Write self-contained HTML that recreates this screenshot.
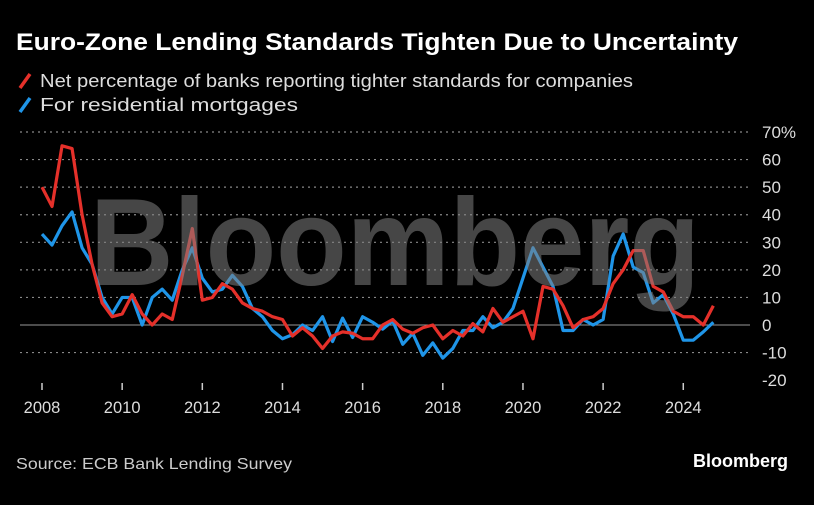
<!DOCTYPE html>
<html><head><meta charset="utf-8"><style>
body{margin:0;background:#000;width:814px;height:500px;overflow:hidden;font-family:"Liberation Sans",sans-serif;color:#fff}
</style></head><body>
<svg width="814" height="500" xmlns="http://www.w3.org/2000/svg">
<rect width="814" height="500" fill="#000"/>
<text x="16" y="50" font-size="24" font-weight="bold" fill="#fff" textLength="722" lengthAdjust="spacingAndGlyphs">Euro-Zone Lending Standards Tighten Due to Uncertainty</text>
<g><line x1="20" y1="88" x2="30" y2="74" stroke="#e5302a" stroke-width="3.5"/><text x="40" y="87" font-size="18" fill="#ddd" textLength="593" lengthAdjust="spacingAndGlyphs">Net percentage of banks reporting tighter standards for companies</text></g>
<g><line x1="20" y1="112" x2="30" y2="98" stroke="#1f95e8" stroke-width="3.5"/><text x="40" y="111" font-size="18" fill="#ddd" textLength="258" lengthAdjust="spacingAndGlyphs">For residential mortgages</text></g>
<g id="grid"></g><g id="lines"></g>
<text x="395" y="285" text-anchor="middle" font-size="124" font-weight="bold" fill="rgba(128,128,128,0.55)" textLength="610" lengthAdjust="spacingAndGlyphs">Bloomberg</text>
<text x="16" y="469" font-size="16" fill="#ccc" textLength="276" lengthAdjust="spacingAndGlyphs">Source: ECB Bank Lending Survey</text>
<text x="788" y="467" text-anchor="end" font-size="18" font-weight="bold" fill="#fff">Bloomberg</text>
</svg>
<script>
const yTicks=[70,60,50,40,30,20,10,0,-10,-20];
const xTickYears=[2008,2010,2012,2014,2016,2018,2020,2022,2024];
const companies=[50,43,65,64, 40,22,8,3, 4,11,4,0, 4,2,18,35, 9,10,15,13, 8,6,5,3, 2,-4,-1,-4, -8.5,-4,-2.5,-3, -5,-5,0,2, -1.5,-3,-1,0, -5,-2,-4,0.5, -2.5,6,1,3, 5,-5,14,13, 7,-1,2,3, 6,15,20,27, 27,14,12,5, 3,3,0,7];
const mortgages=[33,29,36,41, 28,22,10,4, 10,10,0,10, 13,9,20,28, 17,12,13,18, 14,6,3,-2, -5,-3.5,0,-2, 3,-6,2.5,-4.5, 3,1,-1.5,1.5, -7,-3,-11,-6.5, -12,-8.5,-2,-2, 3,-1,1,6, 17,28,21,14, -2,-2,2,0, 2,25,33,21, 19,8,11,4, -5.5,-5.5,-2.5,1];
const NS='http://www.w3.org/2000/svg';
function X(i){return 42+i*10.02;}
function XY(yr){return 42+(yr-2008)*40.08;}
function Y(v){return 325-v*2.757;}
const grid=document.getElementById('grid');
yTicks.forEach(v=>{
  if(v!==0&&v!==-20){const l=document.createElementNS(NS,'line');
  l.setAttribute('x1',20);l.setAttribute('x2',750);l.setAttribute('y1',Y(v));l.setAttribute('y2',Y(v));
  l.setAttribute('stroke','#888');l.setAttribute('stroke-dasharray','2,4');l.setAttribute('stroke-width','1.2');
  
  
  grid.appendChild(l);}
  const t=document.createElementNS(NS,'text');
  t.setAttribute('x',762);t.setAttribute('y',Y(v)+6);t.setAttribute('font-size','17');t.setAttribute('fill','#ddd');
  t.textContent=v===70?'70%':String(v);
  
  
  grid.appendChild(t);
});
const z=document.createElementNS(NS,'line');
z.setAttribute('x1',20);z.setAttribute('x2',750);z.setAttribute('y1',Y(0));z.setAttribute('y2',Y(0));z.setAttribute('stroke','#999');z.setAttribute('stroke-width','1');


grid.appendChild(z);
xTickYears.forEach(yr=>{
  const l=document.createElementNS(NS,'line');
  l.setAttribute('x1',XY(yr));l.setAttribute('x2',XY(yr));l.setAttribute('y1',383);l.setAttribute('y2',390);l.setAttribute('stroke','#ccc');l.setAttribute('stroke-width','1.5');
  
  
  grid.appendChild(l);
  const t=document.createElementNS(NS,'text');
  t.setAttribute('x',XY(yr));t.setAttribute('y',413);t.setAttribute('font-size','16.5');t.setAttribute('fill','#ddd');t.setAttribute('text-anchor','middle');
  t.textContent=yr;
  
  
  grid.appendChild(t);
});
const lines=document.getElementById('lines');
[[mortgages,'#1f95e8','mortgages-line'],[companies,'#e5302a','companies-line']].forEach(([d,c,n])=>{
  const p=document.createElementNS(NS,'polyline');
  p.setAttribute('points',d.map((v,i)=>X(i)+','+Y(v)).join(' '));
  p.setAttribute('fill','none');p.setAttribute('stroke',c);p.setAttribute('stroke-width','3.2');p.setAttribute('stroke-linejoin','round');
  
  
  lines.appendChild(p);
});
</script>
</body></html>
